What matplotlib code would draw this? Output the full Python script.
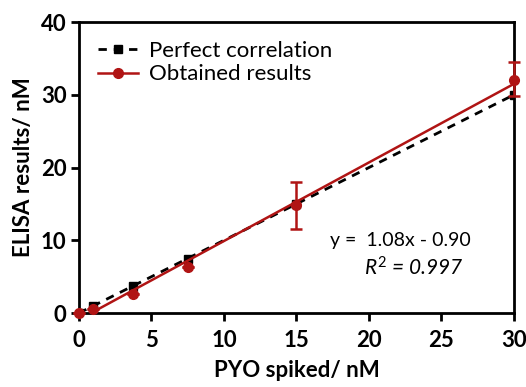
import numpy as np
import matplotlib
matplotlib.use("Agg")
import matplotlib.pyplot as plt

# spiked concentration (nM)
spiked = [0, 1, 3.75, 7.5, 15, 30]
perfect = [0, 1, 3.75, 7.5, 15, 30]
# ELISA results (nM)
obtained = [0, 0.5, 2.6, 6.4, 14.8, 32.0]
obtained_err_lo = [0, 0, 0, 0, 3.2, 2.2]
obtained_err_hi = [0, 0, 0, 0, 3.2, 2.5]

slope, intercept = 1.08, -0.90

plt.rcParams['font.family'] = ['Lato', 'DejaVu Sans']
plt.rcParams['mathtext.fontset'] = 'custom'
plt.rcParams['mathtext.it'] = 'Lato:italic'
plt.rcParams['mathtext.rm'] = 'Lato'
red = '#b01414'

fig = plt.figure(figsize=(5.26, 3.87), dpi=100)
ax = fig.add_axes([0.150, 0.191, 0.827, 0.752])

ax.plot(spiked, perfect, '--', color='black', lw=2, marker='s', ms=6,
        dashes=(3, 2.5), label='Perfect correlation', zorder=3)

# fitted line from where it crosses zero up to 30
x0 = -intercept / slope
xfit = np.array([x0, 30])
ax.plot(xfit, slope * xfit + intercept, color=red, lw=1.8, zorder=4)
ax.errorbar(spiked, obtained, yerr=[obtained_err_lo, obtained_err_hi],
            fmt='o', color=red, ms=7, capsize=4, elinewidth=1.8, capthick=1.8,
            zorder=5, clip_on=False)
# legend entry for obtained results
ax.plot([], [], color=red, lw=1.8, marker='o', ms=7, label='Obtained results')

ax.set_xlim(0, 30)
ax.set_ylim(0, 40)
ax.set_xticks(range(0, 31, 5))
ax.set_yticks(range(0, 41, 10))
for s in ax.spines.values():
    s.set_linewidth(2)
ax.tick_params(width=2, length=6, labelsize=16, direction='out', pad=3)
ax.tick_params(axis='x', pad=6)
for lab in ax.get_xticklabels() + ax.get_yticklabels():
    lab.set_fontweight('bold')

ax.set_xlabel('PYO spiked/ nM', fontsize=16, fontweight='bold', labelpad=7)
ax.set_ylabel('ELISA results/ nM', fontsize=16, fontweight='bold', labelpad=5)

handles, labels = ax.get_legend_handles_labels()
ax.legend(handles, labels, loc='upper left', frameon=False, fontsize=16,
          handlelength=1.8, handletextpad=0.5, borderaxespad=0.55,
          borderpad=0.3, labelspacing=0.15)

ax.text(0.74, 0.25, 'y =  1.08x - 0.90', transform=ax.transAxes,
        fontsize=14, ha='center', va='center')
ax.text(0.77, 0.155, r'$R^{2}$ = 0.997', transform=ax.transAxes,
        fontsize=15, ha='center', va='center', style='italic')

fig.savefig('out.png', dpi=100)
